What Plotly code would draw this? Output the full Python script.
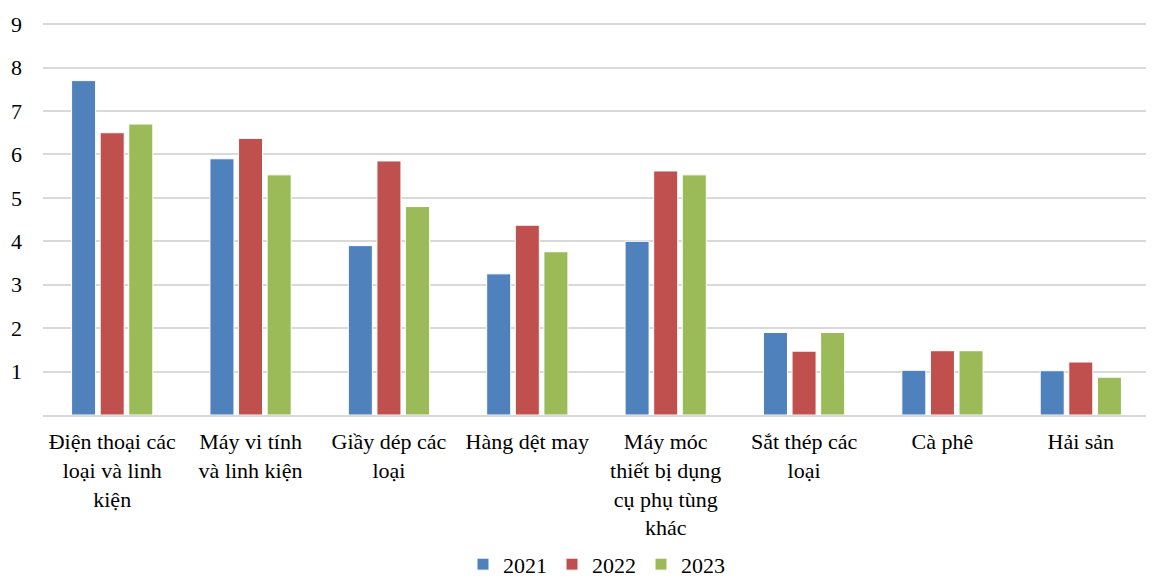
import plotly.graph_objects as go

categories = [
    "Điện thoại các<br>loại và linh<br>kiện",
    "Máy vi tính<br>và linh kiện",
    "Giầy dép các<br>loại",
    "Hàng dệt may",
    "Máy móc<br>thiết bị dụng<br>cụ phụ tùng<br>khác",
    "Sắt thép các<br>loại",
    "Cà phê",
    "Hải sản",
]
years = ["2021", "2022", "2023"]
values_2021 = [7.7, 5.9, 3.9, 3.25, 4.0, 1.9, 1.03, 1.02]
values_2022 = [6.5, 6.37, 5.85, 4.37, 5.62, 1.47, 1.48, 1.22]
values_2023 = [6.7, 5.53, 4.8, 3.76, 5.53, 1.9, 1.48, 0.87]
colors = ["#4f81bd", "#c0504d", "#9bbb59"]

series = [values_2021, values_2022, values_2023]

fig = go.Figure()
for name, vals, col in zip(years, series, colors):
    fig.add_trace(go.Bar(
        x=categories, y=vals, name=name,
        marker=dict(color=col, line=dict(color="white", width=1)),
    ))

ff = "Liberation Serif, Times New Roman, serif"
fig.update_layout(
    width=1146, height=573,
    margin=dict(l=35, r=4, t=14, b=166, autoexpand=False),
    paper_bgcolor="white", plot_bgcolor="white",
    barmode="group", bargap=0.38, bargroupgap=0.16,
    font=dict(family=ff, size=22, color="black"),
    showlegend=True,
    legend=dict(orientation="h", x=0.5, xanchor="center", y=-0.38, yanchor="middle",
                bgcolor="rgba(0,0,0,0)",
                font=dict(family=ff, size=22, color="black"),
                itemwidth=30, traceorder="normal"),
    xaxis=dict(showgrid=False, showline=True, linecolor="#d9d9d9", linewidth=2,
               ticks="", tickangle=0, ticklabelstandoff=6, automargin=False,
               tickfont=dict(family=ff, size=22, color="black")),
    yaxis=dict(range=[0, 9.05], showgrid=True, gridcolor="#d9d9d9", gridwidth=2,
               zeroline=False, showline=False, ticks="", ticklabelstandoff=20,
               automargin=False,
               tickvals=[1, 2, 3, 4, 5, 6, 7, 8, 9],
               tickfont=dict(family=ff, size=22, color="black")),
)

fig.write_html("out.html")
